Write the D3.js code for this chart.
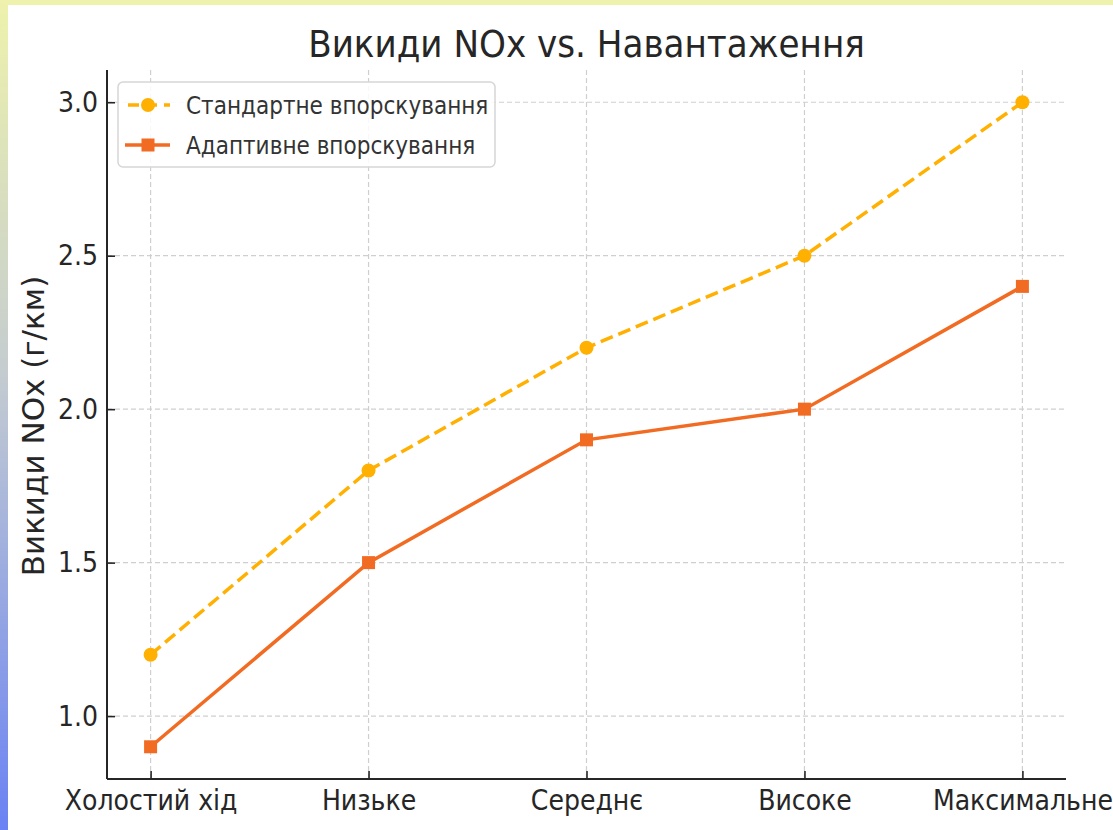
<!DOCTYPE html>
<html>
<head>
<meta charset="utf-8">
<script src="https://cdn.jsdelivr.net/npm/d3@7"></script>
<style>
  body { margin: 0; background: #fff; }
  svg text { font-family: "DejaVu Sans", sans-serif; }
  .cond { font-stretch: condensed; font-family: "DejaVu Sans Condensed", "DejaVu Sans", sans-serif; }
</style>
</head>
<body>
<div id="chart"></div>
<script>
// data
var categories = ["Холостий хід", "Низьке", "Середнє", "Високе", "Максимальне"];
var standardValues = [1.2, 1.8, 2.2, 2.5, 3.0];
var adaptiveValues = [0.9, 1.5, 1.9, 2.0, 2.4];
var yTicks = [1.0, 1.5, 2.0, 2.5, 3.0];
var seriesNames = ["Стандартне впорскування", "Адаптивне впорскування"];

function init() {
    var W = 1113, H = 830;
    var left = 107, right = 1066, top = 70, bottom = 779;

    var svg = d3.select("#chart").append("svg")
        .attr("width", W).attr("height", H);

    // frame gradient (yellow -> blue on the left, yellow on top)
    var defs = svg.append("defs");
    var grad = defs.append("linearGradient").attr("id", "sideGrad")
        .attr("x1", 0).attr("y1", 0).attr("x2", 0).attr("y2", 1);
    grad.append("stop").attr("offset", "0%").attr("stop-color", "#eef2ac");
    grad.append("stop").attr("offset", "45%").attr("stop-color", "#c4ccd0");
    grad.append("stop").attr("offset", "100%").attr("stop-color", "#6a82f4");
    svg.append("rect").attr("x", 0).attr("y", 0).attr("width", W).attr("height", 5).attr("fill", "#eef2ac");
    svg.append("rect").attr("x", 0).attr("y", 0).attr("width", 8).attr("height", H).attr("fill", "url(#sideGrad)");

    // scales
    var xScale = d3.scalePoint().domain(categories).range([left, right]).padding(0.2);
    var yScale = d3.scaleLinear().domain([0.795, 3.105]).range([bottom, top]);

    // grid
    var grid = svg.append("g").attr("stroke", "#cfcfcf").attr("stroke-width", 1.2).attr("stroke-dasharray", "5,3");
    grid.selectAll("line.gx").data(categories).enter().append("line")
        .attr("x1", function(d) { return xScale(d); }).attr("x2", function(d) { return xScale(d); })
        .attr("y1", top).attr("y2", bottom);
    grid.selectAll("line.gy").data(yTicks).enter().append("line")
        .attr("x1", left).attr("x2", right)
        .attr("y1", function(d) { return yScale(d); }).attr("y2", function(d) { return yScale(d); });

    // axes (ticks inward)
    var xAxis = d3.axisBottom(xScale).tickSize(-8).tickPadding(11);
    var gx = svg.append("g").attr("transform", "translate(0," + bottom + ")").call(xAxis);
    var yAxis = d3.axisLeft(yScale).tickValues(yTicks).tickFormat(d3.format(".1f")).tickSize(-8).tickPadding(9);
    var gy = svg.append("g").attr("transform", "translate(" + left + ",0)").call(yAxis);
    [gx, gy].forEach(function(g) {
        g.select(".domain").attr("stroke", "#262626").attr("stroke-width", 2);
        g.selectAll(".tick line").attr("stroke", "#262626").attr("stroke-width", 1.6);
        g.selectAll(".tick text").attr("class", "cond").attr("fill", "#262626").style("font-size", "28px");
    });
    gx.select(".domain").attr("d", "M" + left + ",0H" + right);
    gy.select(".domain").attr("d", "M0," + bottom + "V" + top);

    // title and axis label
    svg.append("text").attr("class", "cond")
        .attr("x", (left + right) / 2).attr("y", 57)
        .attr("text-anchor", "middle").attr("fill", "#262626")
        .style("font-size", "38px")
        .text("Викиди NOx vs. Навантаження");
    svg.append("text")
        .attr("transform", "translate(44,426)rotate(-90)")
        .attr("text-anchor", "middle").attr("fill", "#262626")
        .style("font-size", "31px")
        .text("Викиди NOx (г/км)");

    // lines
    var line = d3.line()
        .x(function(d, i) { return xScale(categories[i]); })
        .y(function(d) { return yScale(d); });

    svg.append("path").datum(standardValues)
        .attr("fill", "none").attr("stroke", "#ffb000").attr("stroke-width", 3.5)
        .attr("stroke-dasharray", "13,6").attr("d", line);
    svg.append("path").datum(adaptiveValues)
        .attr("fill", "none").attr("stroke", "#f26b22").attr("stroke-width", 3.5)
        .attr("d", line);

    svg.selectAll("circle.std").data(standardValues).enter().append("circle")
        .attr("cx", function(d, i) { return xScale(categories[i]); })
        .attr("cy", function(d) { return yScale(d); })
        .attr("r", 7).attr("fill", "#ffb000");
    svg.selectAll("rect.ad").data(adaptiveValues).enter().append("rect")
        .attr("x", function(d, i) { return xScale(categories[i]) - 6.5; })
        .attr("y", function(d) { return yScale(d) - 6.5; })
        .attr("width", 13).attr("height", 13).attr("fill", "#f26b22");

    // legend
    var lg = svg.append("g").attr("transform", "translate(118,82)");
    lg.append("rect").attr("width", 377).attr("height", 85).attr("rx", 5)
        .attr("fill", "#fff").attr("fill-opacity", 0.85)
        .attr("stroke", "#d6d6d6").attr("stroke-width", 1.5);
    var rows = [
        { name: seriesNames[0], color: "#ffb000", dash: "13,6", mark: "circle" },
        { name: seriesNames[1], color: "#f26b22", dash: null, mark: "rect" }
    ];
    rows.forEach(function(r, i) {
        var cy = 23 + i * 40;
        lg.append("line").attr("x1", 7).attr("x2", 52).attr("y1", cy).attr("y2", cy)
            .attr("stroke", r.color).attr("stroke-width", 3.5)
            .attr("stroke-dasharray", r.dash ? "11,7" : null)
            .attr("stroke-dashoffset", r.dash ? -3 : null);
        if (r.mark === "circle") {
            lg.append("circle").attr("cx", 30).attr("cy", cy).attr("r", 7).attr("fill", r.color);
        } else {
            lg.append("rect").attr("x", 23.5).attr("y", cy - 6.5).attr("width", 13).attr("height", 13).attr("fill", r.color);
        }
        lg.append("text").attr("class", "cond")
            .attr("x", 68).attr("y", cy + 8.5)
            .attr("fill", "#333").style("font-size", "24px")
            .text(r.name);
    });
}
window.onload = init;
</script>
</body>
</html>
